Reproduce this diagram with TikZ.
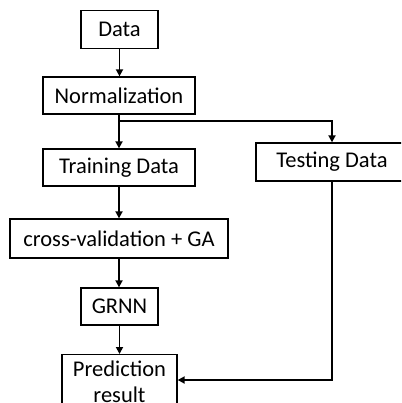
\documentclass[tikz,border=0pt]{standalone}
\usepackage{fontspec}
\setmainfont{Carlito}
\usetikzlibrary{arrows.meta}
\begin{document}
\begin{tikzpicture}[x=1pt,y=-1pt,
  box/.style={draw=black, line width=1.3pt, fill=white, font=\fontsize{22.5}{26}\selectfont,
    inner sep=0pt, align=center},
  link/.style={line width=1.7pt, -{Triangle[length=7pt,width=7pt]}}]
\clip (0,0) rectangle (401,403);
\fill[white] (0,0) rectangle (401,403);
% boxes: corner-to-corner placement
\node[box, minimum width=77pt, minimum height=38pt] (data) at (119.5,29.5) {Data};
\node[box, minimum width=152pt, minimum height=37pt] (norm) at (119,95.5) {Normalization};
\node[box, minimum width=152pt, minimum height=37pt] (train) at (119,167.5) {Training Data};
\node[box, minimum width=152pt, minimum height=38pt] (test) at (332,162) {Testing Data};
\node[box, minimum width=218pt, minimum height=39pt] (cv) at (119,238.5) {cross-validation + GA};
\node[box, minimum width=77pt, minimum height=37pt] (grnn) at (119.5,306.5) {GRNN};
\node[box, minimum width=115pt, minimum height=60pt, anchor=north, text depth=6pt] (pred) at (119.5,354) {Prediction\\result};
% connectors
\coordinate (split) at (norm.south |- 0,121);
\draw[link] (data) -- (data.south |- norm.north);
\draw[line width=1.7pt] (norm.south) -- (split);
\draw[link] (split) -- (train.north);
\draw[link] (split) -| (test.north);
\draw[link] (train.south) -- (train.south |- cv.north);
\draw[link] (cv.south) -- (cv.south |- grnn.north);
\draw[link] (grnn.south) -- (grnn.south |- pred.north);
\draw[link] (test.south) |- (pred.east |- 0,380);
\end{tikzpicture}
\end{document}
